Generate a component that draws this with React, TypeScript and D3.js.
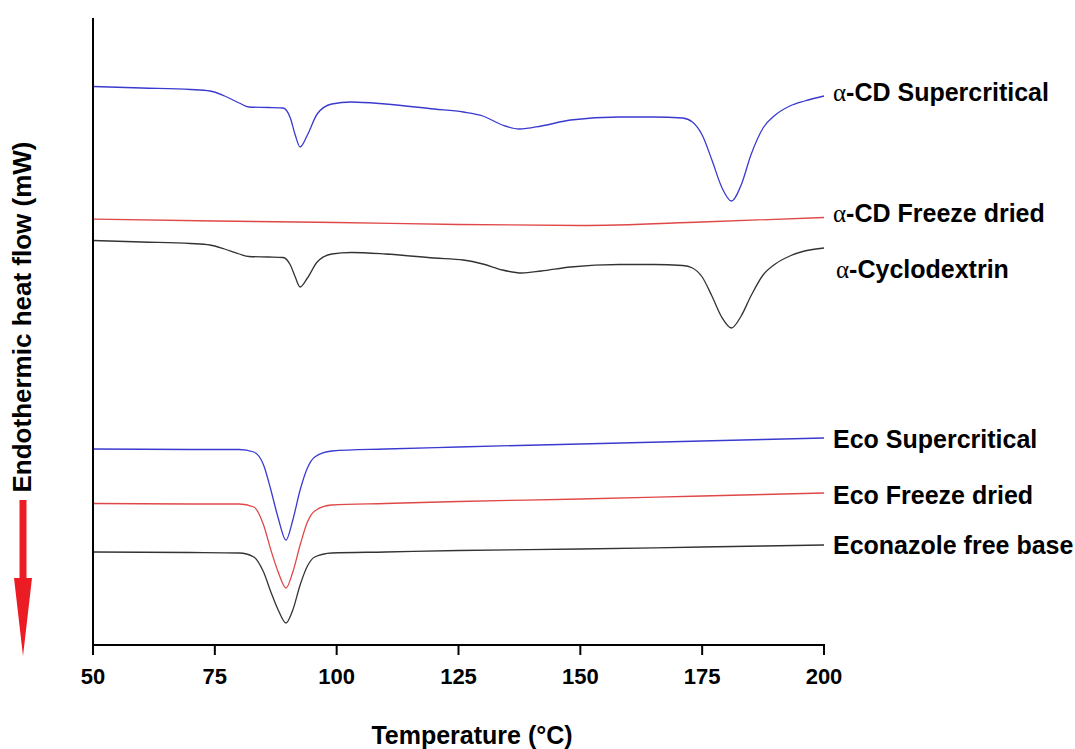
import * as d3 from "d3"

// temperature (°C) / heat flow (arbitrary offset units)
const acdSupercritical: [number, number][] = [
  [50, 55.85], [60, 55.7], [70, 55.55], [74, 55.4], [77, 54.9], [80, 54.2], [82, 53.8],
  [86, 53.75], [89, 53.7], [90.5, 52.7], [91.5, 51.0], [92.5, 49.8], [94, 51.0], [96, 53.1],
  [99, 54.1], [103, 54.3], [110, 54.1], [120, 53.6], [126, 53.3], [130, 52.9], [134, 52.0],
  [137.5, 51.6], [142, 51.9], [148, 52.5], [158, 52.8], [165, 52.8], [171, 52.7], [173, 52.3],
  [175, 51.0], [177, 48.5], [179, 45.8], [181, 44.4], [183, 46.0], [185, 49.0], [187.5, 51.7],
  [190, 53.0], [193, 53.9], [196, 54.4], [200, 54.9],
]

const acdFreezeDried: [number, number][] = [
  [50, 42.6], [75, 42.4], [100, 42.25], [125, 42.05], [150, 41.95], [175, 42.3], [200, 42.75],
]

const alphaCyclodextrin: [number, number][] = [
  [50, 40.45], [60, 40.3], [70, 40.15], [74, 40.0], [77, 39.6], [80, 39.1], [82, 38.85],
  [86, 38.8], [89, 38.75], [90.5, 38.0], [91.5, 36.8], [92.5, 35.8], [94, 36.7], [96, 38.3],
  [99, 39.1], [103, 39.25], [110, 39.1], [120, 38.7], [126, 38.5], [130, 38.1], [134, 37.5],
  [138, 37.2], [142, 37.4], [148, 37.8], [158, 38.05], [165, 38.05], [171, 37.95], [173, 37.7],
  [175, 36.8], [177, 34.9], [179, 32.8], [181, 31.7], [183, 32.9], [185, 34.9], [187.5, 37.0],
  [190, 38.1], [193, 38.9], [196, 39.4], [200, 39.7],
]

const ecoSupercritical: [number, number][] = [
  [50, 19.6], [70, 19.55], [80, 19.55], [83, 19.3], [85, 18.0], [86.5, 15.5], [88, 12.7],
  [89.6, 10.5], [91, 12.5], [92.5, 15.5], [94, 17.7], [95.5, 18.8], [99, 19.4], [110, 19.6],
  [125, 19.8], [150, 20.1], [175, 20.4], [200, 20.7],
]

const ecoFreezeDried: [number, number][] = [
  [50, 14.15], [70, 14.1], [80, 14.1], [83, 13.8], [85, 12.0], [86.5, 9.5], [88, 7.3],
  [89.6, 5.7], [91, 7.3], [92.5, 10.0], [94, 12.3], [95.5, 13.4], [99, 14.0], [110, 14.15],
  [125, 14.35], [150, 14.6], [175, 14.9], [200, 15.2],
]

const econazoleBase: [number, number][] = [
  [50, 9.3], [70, 9.25], [80, 9.2], [83, 8.8], [85, 7.3], [86.5, 5.3], [88, 3.5],
  [89.6, 2.2], [91, 3.5], [92.5, 6.0], [94, 7.9], [95.5, 8.8], [99, 9.2], [110, 9.3],
  [125, 9.45], [150, 9.6], [175, 9.8], [200, 10.0],
]

const seriesNames = [
  "CD Supercritical",
  "CD Freeze dried",
  "Cyclodextrin",
  "Eco Supercritical",
  "Eco Freeze dried",
  "Econazole free base",
]
const alphaPrefix = [true, true, true, false, false, false]
const seriesData = [acdSupercritical, acdFreezeDried, alphaCyclodextrin, ecoSupercritical, ecoFreezeDried, econazoleBase]
const seriesColors = ["#3a3ad0", "#e04848", "#333333", "#3a3ad0", "#e04848", "#333333"]

const xTicks = [50, 75, 100, 125, 150, 175, 200]

// label baselines and x shifts (layout only)
const labelY = [101, 222, 278, 448, 504, 554]
const labelDx = [0, 0, 3, 0, 0, 0]

const width = 1075
const height = 749
const margin = { left: 93, right: 251, top: 18, bottom: 104 }

export default function App() {
  const x = d3.scaleLinear().domain([50, 200]).range([margin.left, width - margin.right])
  const y = d3.scaleLinear().domain([0, 62.7]).range([height - margin.bottom, margin.top])

  const line = d3
    .line<[number, number]>()
    .x((d) => x(d[0]))
    .y((d) => y(d[1]))
    .curve(d3.curveMonotoneX)

  const axisY = height - margin.bottom
  const font = "'Liberation Sans', Arial, Helvetica, sans-serif"

  return (
    <svg
      width={width}
      height={height}
      style={{ position: "absolute", left: 0, top: 0, background: "#fff" }}
      fontFamily={font}
    >
      {seriesData.map((d, i) => (
        <path key={i} d={line(d) ?? ""} fill="none" stroke={seriesColors[i]} strokeWidth={1.3} />
      ))}

      {/* axes */}
      <line x1={margin.left} x2={margin.left} y1={margin.top} y2={axisY} stroke="#000" strokeWidth={2} />
      <line x1={margin.left - 1} x2={x(200) + 1} y1={axisY} y2={axisY} stroke="#000" strokeWidth={2} />
      {xTicks.map((t) => (
        <g key={t} transform={`translate(${x(t)},${axisY})`}>
          <line y1={0} y2={10} stroke="#000" strokeWidth={2} />
          <text y={39} textAnchor="middle" fontSize={22} fontWeight="bold">
            {t}
          </text>
        </g>
      ))}

      <text x={472} y={744} textAnchor="middle" fontSize={25} fontWeight="bold">
        Temperature (°C)
      </text>

      <text transform="translate(31,317) rotate(-90)" textAnchor="middle" fontSize={26} fontWeight="bold">
        Endothermic heat flow (mW)
      </text>

      {/* red arrow */}
      <path d="M19.5,500 L26.5,500 L26.5,578 L32,578 L23,656 L14,578 L19.5,578 Z" fill="#ec1c24" />

      {seriesNames.map((name, i) => (
        <text key={name} x={833 + labelDx[i]} y={labelY[i]} fontSize={25} fontWeight="bold">
          {alphaPrefix[i] && (
            <tspan fontWeight="normal" fontFamily="'Liberation Serif', 'Times New Roman', serif">
              α
            </tspan>
          )}
          {alphaPrefix[i] ? "-" + name : name}
        </text>
      ))}
    </svg>
  )
}
